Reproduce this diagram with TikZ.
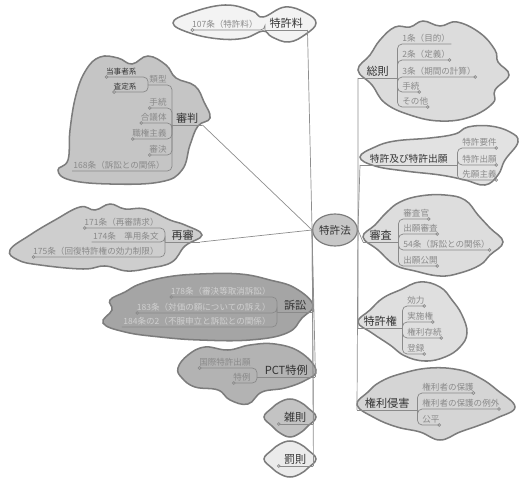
\documentclass[tikz,border=0pt]{standalone}
\usepackage{fontspec}
\setmainfont{Noto Sans CJK JP}
\usetikzlibrary{arrows.meta,shapes.geometric}
\newcommand{\pxu}{0.03cm}
\definecolor{rim}{HTML}{7C7C7C}
\definecolor{lnk}{HTML}{8E8E8E}
\definecolor{ulc}{HTML}{8A8A8A}
\definecolor{txtmain}{HTML}{333333}
\definecolor{txtitem}{HTML}{8A8A8A}
\definecolor{txtpale}{HTML}{D0D0D0}
\definecolor{fryo}{HTML}{F3F3F3}
\definecolor{fsinpan}{HTML}{C5C5C5}
\definecolor{fsaisin}{HTML}{CECECE}
\definecolor{fsosho}{HTML}{A5A5A5}
\definecolor{fpct}{HTML}{B3B3B3}
\definecolor{fzatsu}{HTML}{C3C3C3}
\definecolor{fbatsu}{HTML}{EBEBEB}
\definecolor{fsoku}{HTML}{DCDCDC}
\definecolor{fgan}{HTML}{E2E2E2}
\definecolor{fshinsa}{HTML}{DDDDDD}
\definecolor{fken}{HTML}{DFDFDF}
\definecolor{fshingai}{HTML}{D5D5D5}
\definecolor{fcenter}{HTML}{C7C7C7}
\begin{document}
\begin{tikzpicture}[x=0.03cm,y=-0.03cm,
  blob/.style={draw=rim,line width=1.3pt},
  hub/.style={ellipse,draw=rim,line width=1pt,fill=fcenter,minimum width=40*\pxu,minimum height=32*\pxu,inner sep=0pt,text=txtmain,font=\fontsize{9}{10}\selectfont},
  main/.style={anchor=south west,inner xsep=0pt,inner ysep=1.5pt,text=txtmain,font=\fontsize{9.5}{10}\selectfont},
  item/.style={inner xsep=1pt,inner ysep=1.5pt,text=txtitem,font=\fontsize{7.3}{8}\selectfont},
  itemL/.style={item,anchor=south east},
  itemR/.style={item,anchor=south west},
  uline/.style={draw=ulc,line width=0.6pt,rounded corners=4pt},
  dot/.style={uline,-{Circle[open,length=3pt,width=3pt]}},
  link/.style={draw=lnk,line width=0.6pt}]
\useasboundingbox (0,0) rectangle (524,479);

\draw[blob,fill=fryo] plot[smooth cycle,tension=0.7] coordinates {(173,23) (190,13) (225,5) (252,11) (263,17) (285,7) (306,13) (316,23) (306,34) (289,42) (272,37) (263,31) (245,38) (220,39) (190,33)};
\draw[blob,fill=fsinpan] plot[smooth cycle,tension=0.7] coordinates {(58,170) (68,160) (70,130) (76,95) (86,70) (100,57) (118,58) (132,64) (148,56) (166,65) (176,78) (195,86) (204,102) (210,118) (198,126) (190,145) (182,170) (160,182) (110,184) (70,180)};
\draw[blob,fill=fsaisin] plot[smooth cycle,tension=0.7] coordinates {(10,250) (30,235) (55,220) (80,207) (95,210) (110,204) (125,209) (145,209) (170,220) (185,225) (202,235) (185,246) (172,262) (150,268) (127,271) (105,266) (83,269) (40,265) (18,260)};
\draw[blob,fill=fsosho] plot[smooth cycle,tension=0.7] coordinates {(103,323) (112,310) (110,300) (125,292) (140,284) (167,277) (200,274) (240,274) (270,280) (295,288) (313,305) (302,318) (287,333) (250,340) (200,340) (160,337) (125,332)};
\draw[blob,fill=fpct] plot[smooth cycle,tension=0.7] coordinates {(178,368) (188,355) (205,347) (228,350) (250,345) (275,344) (300,352) (316,370) (306,380) (285,388) (262,392) (248,404) (230,400) (218,390) (195,387) (182,378)};
\draw[blob,fill=fzatsu] plot[smooth cycle,tension=0.7] coordinates {(264,417) (272,408) (280,402) (290,399) (300,402) (308,408) (316,417) (308,426) (300,433) (290,437) (280,433) (272,426)};
\draw[blob,fill=fbatsu] plot[smooth cycle,tension=0.7] coordinates {(264,459) (272,450) (280,444) (290,441) (300,444) (308,450) (316,459) (308,468) (300,474) (290,477) (280,474) (272,468)};
\draw[blob,fill=fsoku] plot[smooth cycle,tension=0.7] coordinates {(358,70) (370,55) (380,40) (395,27) (410,27) (423,21) (440,26) (457,22) (480,33) (495,50) (498,62) (509,75) (495,90) (493,103) (470,117) (440,121) (410,115) (385,103) (372,85)};
\draw[blob,fill=fgan] plot[smooth cycle,tension=0.7] coordinates {(360,157) (375,147) (395,141) (430,138) (455,134) (468,127) (490,126) (510,132) (518,142) (505,160) (498,175) (485,185) (465,180) (440,175) (405,171) (375,166)};
\draw[blob,fill=fshinsa] plot[smooth cycle,tension=0.7] coordinates {(363,237) (375,225) (387,212) (400,202) (420,196) (445,195) (465,200) (478,215) (490,228) (503,242) (490,255) (480,265) (460,273) (440,276) (415,271) (395,265) (378,250)};
\draw[blob,fill=fken] plot[smooth cycle,tension=0.7] coordinates {(358,322) (370,310) (383,298) (400,290) (420,282) (440,287) (452,300) (462,315) (467,333) (460,347) (445,357) (425,361) (405,356) (390,345) (372,333)};
\draw[blob,fill=fshingai] plot[smooth cycle,tension=0.7] coordinates {(357,405) (368,392) (380,382) (400,374) (430,368) (460,370) (480,378) (497,390) (515,407) (497,418) (480,425) (460,432) (440,440) (420,432) (397,427) (375,418)};

\node[hub] (tokkyo) at (335,230) {特許法};

\node[main,minimum width=42*\pxu] (ryo) at (265,30) {特許料};
\node[main,minimum width=30*\pxu] (sinpan) at (172,125) {審判};
\node[main,minimum width=35*\pxu] (saisin) at (165,242) {再審};
\node[main,minimum width=36*\pxu] (sosho) at (277,312) {訴訟};
\node[main,minimum width=58*\pxu] (pct) at (257,377) {PCT特例};
\node[main,minimum width=36*\pxu] (zatsu) at (277,424) {雑則};
\node[main,minimum width=36*\pxu] (batsu) at (277,466) {罰則};
\node[main,minimum width=39*\pxu] (soku) at (358,78) {総則};
\node[main,minimum width=97*\pxu,font=\fontsize{8.3}{9}\selectfont] (gan) at (360,165) {特許及び特許出願};
\node[main,minimum width=35*\pxu] (shinsa) at (363,242) {審査};
\node[main,minimum width=44*\pxu] (ken) at (358,328) {特許権};
\node[main,minimum width=60*\pxu] (shingai) at (357,410) {権利侵害};

\node[itemL] (ryo1) at (259,30) {107条（特許料）};

\node[itemL] (sp1) at (168,85) {類型};
\node[itemL,text=txtmain,font=\fontsize{6.5}{7}\selectfont] (sp1a) at (138,77) {当事者系};
\node[itemL,text=txtmain,font=\fontsize{6.5}{7}\selectfont] (sp1b) at (138,92) {査定系};
\node[itemL] (sp2) at (168,108) {手続};
\node[itemL] (sp3) at (168,123) {合議体};
\node[itemL] (sp4) at (168,139) {職権主義};
\node[itemL] (sp5) at (168,155) {審決};
\node[itemL] (sp6) at (166,171) {168条（訴訟との関係）};

\node[itemL] (ss1) at (160,228) {171条（再審請求）};
\node[itemL] (ss2) at (160,242) {174条　準用条文};
\node[itemL] (ss3) at (160,257) {175条（回復特許権の効力制限）};

\node[itemL,text=txtpale] (so1) at (272,297) {178条（審決等取消訴訟）};
\node[itemL,text=txtpale] (so2) at (272,313) {183条（対価の額についての訴え）};
\node[itemL,text=txtpale] (so3) at (272,327) {184条の2（不服申立と訴訟との関係）};

\node[itemL] (pc1) at (252,368) {国際特許出願};
\node[itemL] (pc2) at (252,383) {特例};

\node[itemR] (sk1) at (401,44) {1条（目的）};
\node[itemR] (sk2) at (401,60) {2条（定義）};
\node[itemR] (sk3) at (401,77) {3条（期間の計算）};
\node[itemR] (sk4) at (401,92) {手続};
\node[itemR] (sk5) at (401,107) {その他};

\node[itemR] (sg1) at (461,148) {特許要件};
\node[itemR] (sg2) at (461,165) {特許出願};
\node[itemR] (sg3) at (461,180) {先願主義};

\node[itemR] (sn1) at (402,219) {審査官};
\node[itemR] (sn2) at (402,234) {出願審査};
\node[itemR] (sn3) at (402,250) {54条（訴訟との関係）};
\node[itemR] (sn4) at (402,266) {出願公開};

\node[itemR] (kr1) at (406,306) {効力};
\node[itemR] (kr2) at (406,322) {実施権};
\node[itemR] (kr3) at (406,338) {権利存続};
\node[itemR] (kr4) at (406,354) {登録};

\node[itemR] (sh1) at (421,393) {権利者の保護};
\node[itemR] (sh2) at (421,409) {権利者の保護の例外};
\node[itemR] (sh3) at (421,425) {公平};

\draw[uline] (ryo.south west) -- (ryo.south east);
\draw[uline] (sinpan.south west) -- (sinpan.south east);
\draw[uline] (saisin.south west) -- (saisin.south east);
\draw[uline] (sosho.south west) -- (sosho.south east);
\draw[uline] (pct.south west) -- (pct.south east);
\draw[uline,{Circle[open,length=3pt,width=3pt]}-] (zatsu.south west) -- (zatsu.south east);
\draw[uline,{Circle[open,length=3pt,width=3pt]}-] (batsu.south west) -- (batsu.south east);
\draw[uline] (soku.south west) -- (soku.south east);
\draw[uline] (gan.south west) -- (gan.south east);
\draw[uline] (shinsa.south west) -- (shinsa.south east);
\draw[uline] (ken.south west) -- (ken.south east);
\draw[uline] (shingai.south west) -- (shingai.south east);

\draw[dot] (ryo.south west) |- (ryo1.south west);

\draw[uline] (sinpan.south west) |- (sp1.south west);
\draw[dot] (sp1.south west) |- (sp1a.south west);
\draw[dot] (sp1.south west) |- (sp1b.south west);
\draw[dot] (sinpan.south west) |- (sp2.south west);
\draw[dot] (sinpan.south west) |- (sp3.south west);
\draw[dot] (sinpan.south west) |- (sp4.south west);
\draw[dot] (sinpan.south west) |- (sp5.south west);
\draw[uline] (sinpan.south west) |- (sp6.south west);

\draw[dot] (saisin.south west) |- (ss1.south west);
\draw[uline] (saisin.south west) |- (ss2.south west);
\draw[dot] (saisin.south west) |- (ss3.south west);

\draw[dot] (sosho.south west) |- (so1.south west);
\draw[dot] (sosho.south west) |- (so2.south west);
\draw[uline] (sosho.south west) |- (so3.south west);

\draw[dot] (pct.south west) |- (pc1.south west);
\draw[dot] (pct.south west) |- (pc2.south west);

\draw[uline] (soku.south east) |- (sk1.south east);
\draw[dot] (soku.south east) |- (sk2.south east);
\draw[dot] (soku.south east) |- (sk3.south east);
\draw[dot] (soku.south east) |- (sk4.south east);
\draw[dot] (soku.south east) |- (sk5.south east);

\draw[dot] (gan.south east) |- (sg1.south east);
\draw[dot] (gan.south east) |- (sg2.south east);
\draw[dot] (gan.south east) |- (sg3.south east);

\draw[dot] (shinsa.south east) |- (sn1.south east);
\draw[dot] (shinsa.south east) |- (sn2.south east);
\draw[dot] (shinsa.south east) |- (sn3.south east);
\draw[dot] (shinsa.south east) |- (sn4.south east);

\draw[dot] (ken.south east) |- (kr1.south east);
\draw[dot] (ken.south east) |- (kr2.south east);
\draw[dot] (ken.south east) |- (kr3.south east);
\draw[dot] (ken.south east) |- (kr4.south east);

\draw[dot] (shingai.south east) |- (sh1.south east);
\draw[dot] (shingai.south east) |- (sh2.south east);
\draw[dot] (shingai.south east) |- (sh3.south east);

\draw[link] (tokkyo.west) -- (ryo.south east);
\draw[link] (tokkyo.west) -- (sinpan.south east);
\draw[link] (tokkyo.west) -- (saisin.south east);
\draw[link] (tokkyo.west) -- (sosho.south east);
\draw[link] (tokkyo.west) -- (pct.south east);
\draw[link] (tokkyo.west) -- (zatsu.south east);
\draw[link] (tokkyo.west) -- (batsu.south east);
\draw[link] (tokkyo.east) -- (soku.south west);
\draw[link] (tokkyo.east) -- (gan.south west);
\draw[link] (tokkyo.east) -- (shinsa.south west);
\draw[link] (tokkyo.east) -- (ken.south west);
\draw[link] (tokkyo.east) -- (shingai.south west);
\end{tikzpicture}
\end{document}
